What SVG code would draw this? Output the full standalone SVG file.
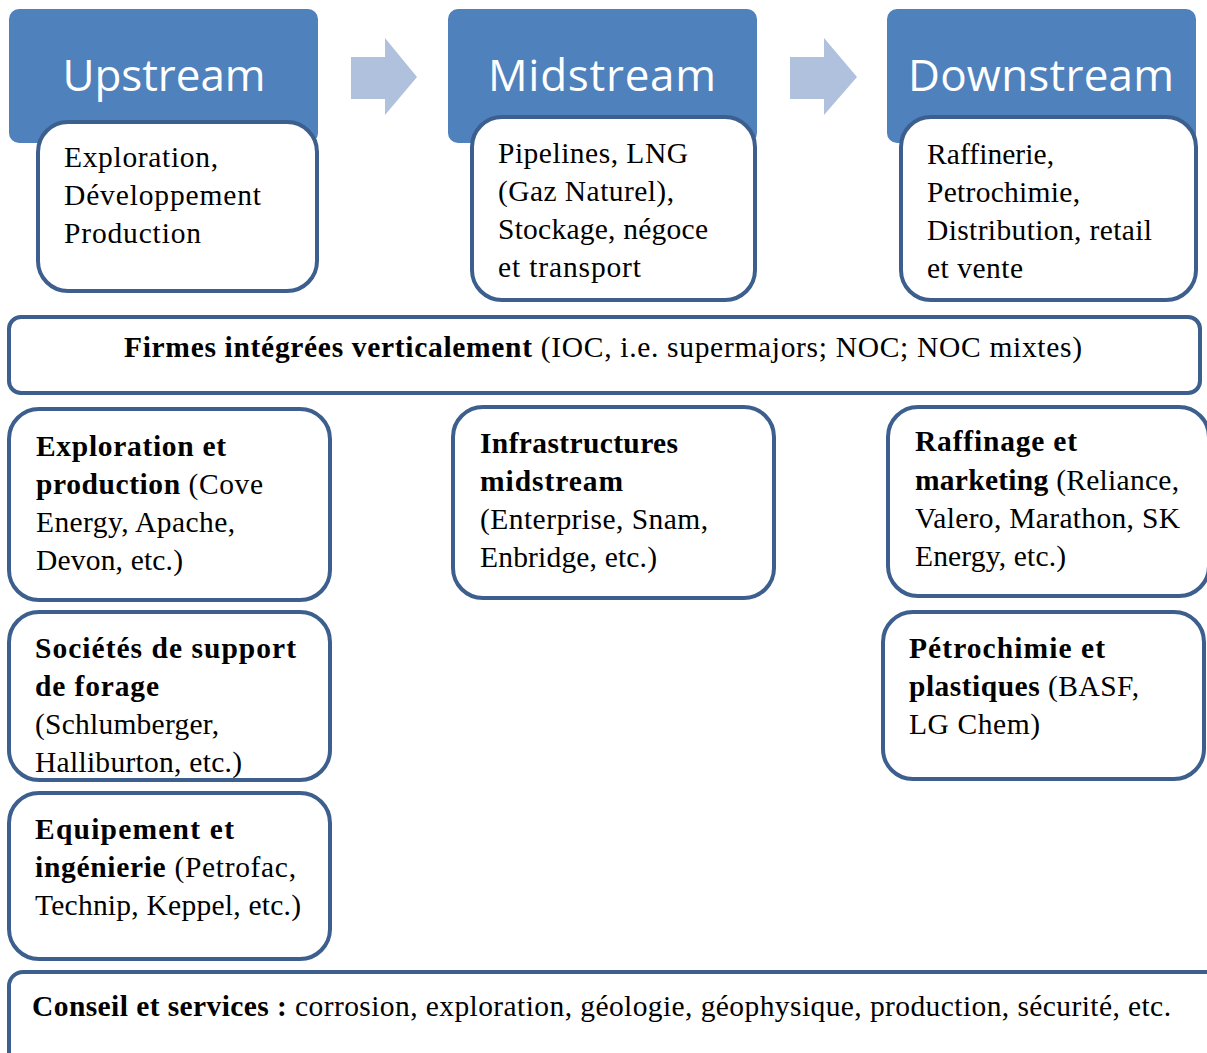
<svg xmlns="http://www.w3.org/2000/svg" width="1207" height="1053" viewBox="0 0 1207 1053">
<style>
.hdr{fill:#4F81BD}
.box{fill:#FFFFFF;stroke:#3C5F8E;stroke-width:4}
.arr{fill:#B0C1DE}
.ht{font-family:"Open Sans","Noto Sans",sans-serif;font-size:44px;fill:#FFFFFF}
.t{font-family:"Liberation Serif",serif;font-size:29.5px;fill:#000000}
.b{font-weight:bold}
</style>
<rect width="1207" height="1053" fill="#FFFFFF"/>
<g id="connectors">
<polygon class="arr" points="351,57 385,57 385,38 417,77 385,115 385,99 351,99"/>
<polygon class="arr" points="790,57 824,57 824,38 857,77 824,115 824,99 790,99"/>
</g>
<g id="upstream">
<rect class="hdr" x="9" y="9" width="309" height="134" rx="10"/>
<text class="ht" x="164" y="91" text-anchor="middle" textLength="203">Upstream</text>
<rect class="box" x="38" y="122" width="279" height="169" rx="30"/>
<text class="t" x="64" y="167" textLength="154">Exploration,</text>
<text class="t" x="64" y="205" textLength="197">Développement</text>
<text class="t" x="64" y="243" textLength="137">Production</text>
</g>
<g id="midstream">
<rect class="hdr" x="448" y="9" width="309" height="134" rx="10"/>
<text class="ht" x="602" y="91" text-anchor="middle" textLength="228">Midstream</text>
<rect class="box" x="472" y="117" width="283" height="183" rx="30"/>
<text class="t" x="498" y="163" textLength="190">Pipelines, LNG</text>
<text class="t" x="498" y="201" textLength="176">(Gaz Naturel),</text>
<text class="t" x="498" y="239" textLength="210">Stockage, négoce</text>
<text class="t" x="498" y="277" textLength="143">et transport</text>
</g>
<g id="downstream">
<rect class="hdr" x="887" y="9" width="309" height="134" rx="10"/>
<text class="ht" x="1041" y="91" text-anchor="middle" textLength="266">Downstream</text>
<rect class="box" x="901" y="117" width="295" height="183" rx="30"/>
<text class="t" x="927" y="164" textLength="127">Raffinerie,</text>
<text class="t" x="927" y="202" textLength="153">Petrochimie,</text>
<text class="t" x="927" y="240" textLength="225">Distribution, retail</text>
<text class="t" x="927" y="278" textLength="96">et vente</text>
</g>
<g id="firmes">
<rect class="box" x="9" y="317" width="1191" height="76" rx="12"/>
<text class="t" x="124" y="357" textLength="958"><tspan class="b">Firmes intégrées verticalement</tspan>  (IOC, i.e. supermajors; NOC; NOC mixtes)</text>
</g>
<g id="exploration-production">
<rect class="box" x="9" y="409" width="321" height="191" rx="30"/>
<text class="t b" x="36" y="456" textLength="190">Exploration et</text>
<text class="t" x="36" y="494" textLength="227"><tspan class="b">production</tspan> (Cove</text>
<text class="t" x="36" y="532" textLength="199">Energy, Apache,</text>
<text class="t" x="36" y="570" textLength="147">Devon, etc.)</text>
</g>
<g id="infrastructures">
<rect class="box" x="453" y="407" width="321" height="191" rx="30"/>
<text class="t b" x="480" y="453" textLength="198">Infrastructures</text>
<text class="t b" x="480" y="491" textLength="143">midstream</text>
<text class="t" x="480" y="529" textLength="228">(Enterprise, Snam,</text>
<text class="t" x="480" y="567" textLength="177">Enbridge, etc.)</text>
</g>
<g id="raffinage">
<rect class="box" x="888" y="407" width="321" height="189" rx="30"/>
<text class="t b" x="915" y="451" textLength="162">Raffinage et</text>
<text class="t" x="915" y="490" textLength="264"><tspan class="b">marketing</tspan> (Reliance,</text>
<text class="t" x="915" y="528" textLength="265">Valero, Marathon, SK</text>
<text class="t" x="915" y="566" textLength="151">Energy, etc.)</text>
</g>
<g id="societes">
<rect class="box" x="9" y="612" width="321" height="168" rx="30"/>
<text class="t b" x="35" y="658" textLength="261">Sociétés de support</text>
<text class="t b" x="35" y="696" textLength="124">de forage</text>
<text class="t" x="35" y="734" textLength="184">(Schlumberger,</text>
<text class="t" x="35" y="772" textLength="207">Halliburton, etc.)</text>
</g>
<g id="equipement">
<rect class="box" x="9" y="793" width="321" height="166" rx="30"/>
<text class="t b" x="35" y="839" textLength="199">Equipement et</text>
<text class="t" x="35" y="877" textLength="261"><tspan class="b">ingénierie</tspan> (Petrofac,</text>
<text class="t" x="35" y="915" textLength="266">Technip, Keppel, etc.)</text>
</g>
<g id="petrochimie">
<rect class="box" x="883" y="612" width="321" height="167" rx="30"/>
<text class="t b" x="909" y="658" textLength="196">Pétrochimie et</text>
<text class="t" x="909" y="696" textLength="230"><tspan class="b">plastiques</tspan> (BASF,</text>
<text class="t" x="909" y="734" textLength="131">LG Chem)</text>
</g>
<g id="conseil">
<rect class="box" x="9" y="972" width="1212" height="110" rx="14"/>
<text class="t" x="32" y="1016" textLength="1139"><tspan class="b">Conseil et services :</tspan> corrosion, exploration, géologie, géophysique, production, sécurité, etc.</text>
</g>
</svg>
